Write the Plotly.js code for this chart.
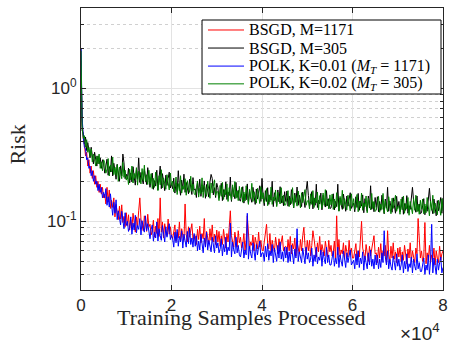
<!DOCTYPE html>
<html>
<head>
<meta charset="utf-8">
<script src="https://cdn.plot.ly/plotly-3.0.1.min.js"></script>
<style>html,body{margin:0;padding:0;background:#fff;}#chart{width:449px;height:344px;}</style>
</head>
<body>
<div id="chart"></div>
<script>
// Sample counts: two early samples, then every 250 samples up to 80000
const earlySamples = [0, 100];
const sampleStep = 250;
const samples = earlySamples.concat(Array.from({length: 320}, (_, i) => (i + 1) * sampleStep));

const seriesNames = [
  'BSGD, M=1171',
  'BSGD, M=305',
  'POLK, K=0.01 (<i>M<sub>T</sub></i> = 1171)',
  'POLK, K=0.02 (<i>M<sub>T</sub></i> = 305)'
];
const seriesColors = ['#ff0000', '#000000', '#0000ff', '#008000'];

const bsgd1171 = [
  1.6, 0.8,
  0.55, 0.42, 0.38, 0.31, 0.33, 0.26, 0.29, 0.23, 0.26, 0.21, 0.24, 0.19, 0.22, 0.18, 0.2, 0.165, 0.19, 0.16, 0.18, 0.15,
  0.16, 0.135, 0.18, 0.14, 0.172, 0.125, 0.144, 0.127, 0.15, 0.108, 0.134, 0.117, 0.103, 0.13, 0.104, 0.133, 0.098, 0.109, 0.091, 0.116,
  0.093, 0.112, 0.086, 0.103, 0.088, 0.115, 0.096, 0.083, 0.108, 0.092, 0.12, 0.15, 0.104, 0.09, 0.085, 0.11, 0.098, 0.084, 0.113, 0.091,
  0.095, 0.079, 0.085, 0.102, 0.076, 0.092, 0.081, 0.105, 0.077, 0.15, 0.083, 0.099, 0.075, 0.096, 0.084, 0.078, 0.104, 0.08, 0.091, 0.077,
  0.074, 0.087, 0.094, 0.071, 0.083, 0.075, 0.099, 0.071, 0.088, 0.078, 0.072, 0.135, 0.08, 0.07, 0.091, 0.076, 0.086, 0.096, 0.073, 0.079,
  0.078, 0.067, 0.087, 0.073, 0.092, 0.069, 0.081, 0.074, 0.105, 0.066, 0.084, 0.076, 0.068, 0.088, 0.072, 0.094, 0.07, 0.08, 0.067, 0.086,
  0.07, 0.084, 0.065, 0.078, 0.067, 0.087, 0.073, 0.063, 0.081, 0.07, 0.09, 0.12, 0.078, 0.068, 0.064, 0.083, 0.074, 0.064, 0.085, 0.069,
  0.076, 0.063, 0.068, 0.081, 0.06, 0.073, 0.11, 0.083, 0.062, 0.07, 0.066, 0.079, 0.06, 0.076, 0.067, 0.062, 0.083, 0.064, 0.072, 0.061,
  0.06, 0.071, 0.077, 0.095, 0.068, 0.062, 0.081, 0.058, 0.072, 0.064, 0.059, 0.076, 0.066, 0.057, 0.074, 0.062, 0.07, 0.078, 0.06, 0.064,
  0.065, 0.056, 0.073, 0.06, 0.077, 0.057, 0.068, 0.062, 0.075, 0.055, 0.07, 0.063, 0.057, 0.073, 0.06, 0.078, 0.09, 0.066, 0.056, 0.072,
  0.06, 0.072, 0.055, 0.066, 0.085, 0.074, 0.062, 0.054, 0.069, 0.059, 0.077, 0.056, 0.067, 0.058, 0.055, 0.071, 0.063, 0.054, 0.072, 0.059,
  0.066, 0.055, 0.059, 0.071, 0.052, 0.11, 0.056, 0.073, 0.054, 0.061, 0.057, 0.069, 0.052, 0.066, 0.059, 0.054, 0.072, 0.056, 0.063, 0.053,
  0.053, 0.063, 0.068, 0.051, 0.06, 0.054, 0.071, 0.1, 0.063, 0.056, 0.052, 0.067, 0.058, 0.05, 0.065, 0.055, 0.062, 0.069, 0.078, 0.057,
  0.058, 0.049, 0.064, 0.053, 0.068, 0.051, 0.06, 0.055, 0.066, 0.049, 0.085, 0.056, 0.05, 0.065, 0.053, 0.069, 0.052, 0.059, 0.049, 0.063,
  0.054, 0.064, 0.05, 0.059, 0.051, 0.066, 0.055, 0.048, 0.062, 0.053, 0.069, 0.05, 0.06, 0.052, 0.049, 0.063, 0.057, 0.105, 0.065, 0.053,
  0.06, 0.05, 0.054, 0.098, 0.048, 0.058, 0.051, 0.066, 0.049, 0.056, 0.052, 0.063, 0.047, 0.06, 0.053, 0.049, 0.065, 0.051, 0.057, 0.06
];

const bsgd305 = [
  2.0, 0.9,
  0.48, 0.46, 0.38, 0.43, 0.34, 0.39, 0.35, 0.30, 0.36, 0.31, 0.27, 0.33, 0.30, 0.26, 0.31, 0.27, 0.30, 0.25, 0.29, 0.27,
  0.23, 0.27, 0.293, 0.222, 0.258, 0.235, 0.31, 0.219, 0.273, 0.242, 0.207, 0.268, 0.23, 0.2, 0.261, 0.219, 0.32, 0.275, 0.209, 0.226,
  0.209, 0.251, 0.194, 0.231, 0.198, 0.257, 0.216, 0.187, 0.242, 0.207, 0.3, 0.196, 0.233, 0.202, 0.191, 0.246, 0.22, 0.189, 0.253, 0.205,
  0.18, 0.212, 0.23, 0.174, 0.202, 0.184, 0.242, 0.172, 0.214, 0.26, 0.176, 0.228, 0.196, 0.17, 0.222, 0.186, 0.21, 0.234, 0.178, 0.192,
  0.176, 0.211, 0.163, 0.194, 0.167, 0.24, 0.181, 0.157, 0.204, 0.174, 0.226, 0.165, 0.196, 0.17, 0.161, 0.207, 0.185, 0.159, 0.213, 0.172,
  0.175, 0.151, 0.196, 0.163, 0.207, 0.154, 0.182, 0.166, 0.201, 0.149, 0.189, 0.17, 0.152, 0.198, 0.225, 0.21, 0.158, 0.179, 0.151, 0.193,
  0.179, 0.149, 0.161, 0.193, 0.143, 0.173, 0.153, 0.198, 0.146, 0.166, 0.156, 0.215, 0.141, 0.181, 0.159, 0.148, 0.196, 0.151, 0.171, 0.144,
  0.142, 0.167, 0.182, 0.137, 0.16, 0.145, 0.191, 0.136, 0.169, 0.15, 0.139, 0.18, 0.155, 0.134, 0.175, 0.147, 0.166, 0.185, 0.141, 0.21,
  0.152, 0.131, 0.17, 0.141, 0.179, 0.134, 0.158, 0.144, 0.2, 0.129, 0.164, 0.147, 0.132, 0.172, 0.14, 0.182, 0.137, 0.155, 0.131, 0.167,
  0.141, 0.169, 0.13, 0.155, 0.133, 0.173, 0.145, 0.126, 0.163, 0.139, 0.181, 0.132, 0.157, 0.136, 0.129, 0.166, 0.148, 0.127, 0.17, 0.2,
  0.156, 0.13, 0.14, 0.167, 0.124, 0.15, 0.132, 0.19, 0.127, 0.144, 0.135, 0.163, 0.122, 0.157, 0.138, 0.128, 0.17, 0.131, 0.148, 0.125,
  0.126, 0.148, 0.161, 0.122, 0.141, 0.129, 0.19, 0.12, 0.15, 0.133, 0.123, 0.16, 0.137, 0.119, 0.155, 0.13, 0.147, 0.164, 0.125, 0.134,
  0.137, 0.118, 0.153, 0.127, 0.162, 0.121, 0.142, 0.13, 0.158, 0.116, 0.148, 0.133, 0.119, 0.155, 0.126, 0.185, 0.123, 0.14, 0.118, 0.151,
  0.127, 0.153, 0.118, 0.141, 0.121, 0.157, 0.131, 0.114, 0.147, 0.126, 0.18, 0.119, 0.142, 0.123, 0.117, 0.15, 0.134, 0.115, 0.154, 0.125,
  0.141, 0.118, 0.127, 0.152, 0.113, 0.136, 0.121, 0.156, 0.115, 0.131, 0.123, 0.148, 0.18, 0.143, 0.126, 0.117, 0.155, 0.119, 0.135, 0.114,
  0.116, 0.137, 0.148, 0.112, 0.13, 0.119, 0.156, 0.177, 0.138, 0.123, 0.114, 0.147, 0.126, 0.11, 0.143, 0.12, 0.135, 0.151, 0.115, 0.15
];

const polk001 = [
  2.0, 0.85,
  0.6, 0.44, 0.36, 0.35, 0.29, 0.3, 0.25, 0.26, 0.22, 0.24, 0.2, 0.22, 0.19, 0.2, 0.17, 0.19, 0.165, 0.18, 0.15, 0.165,
  0.15, 0.176, 0.132, 0.153, 0.128, 0.161, 0.131, 0.111, 0.139, 0.115, 0.145, 0.103, 0.12, 0.101, 0.094, 0.119, 0.104, 0.088, 0.116, 0.093,
  0.1, 0.084, 0.09, 0.108, 0.08, 0.097, 0.086, 0.111, 0.082, 0.093, 0.087, 0.105, 0.079, 0.101, 0.089, 0.083, 0.11, 0.085, 0.096, 0.081,
  0.074, 0.087, 0.094, 0.071, 0.083, 0.075, 0.099, 0.071, 0.088, 0.078, 0.072, 0.093, 0.08, 0.07, 0.091, 0.076, 0.086, 0.096, 0.073, 0.079,
  0.074, 0.064, 0.083, 0.069, 0.087, 0.065, 0.077, 0.07, 0.085, 0.063, 0.08, 0.072, 0.064, 0.084, 0.068, 0.089, 0.067, 0.075, 0.064, 0.081,
  0.065, 0.078, 0.06, 0.071, 0.061, 0.08, 0.067, 0.058, 0.075, 0.064, 0.083, 0.061, 0.072, 0.063, 0.059, 0.076, 0.068, 0.058, 0.078, 0.063,
  0.069, 0.058, 0.062, 0.074, 0.055, 0.067, 0.059, 0.076, 0.056, 0.064, 0.06, 0.097, 0.054, 0.07, 0.061, 0.057, 0.076, 0.058, 0.066, 0.056,
  0.054, 0.064, 0.07, 0.053, 0.061, 0.056, 0.115, 0.052, 0.065, 0.057, 0.053, 0.069, 0.059, 0.051, 0.067, 0.056, 0.064, 0.071, 0.054, 0.058,
  0.058, 0.05, 0.065, 0.054, 0.068, 0.051, 0.06, 0.055, 0.067, 0.049, 0.063, 0.056, 0.05, 0.066, 0.053, 0.07, 0.052, 0.059, 0.05, 0.064,
  0.053, 0.064, 0.049, 0.059, 0.05, 0.066, 0.055, 0.048, 0.062, 0.053, 0.088, 0.05, 0.059, 0.052, 0.049, 0.063, 0.056, 0.048, 0.064, 0.052,
  0.058, 0.049, 0.052, 0.063, 0.046, 0.056, 0.05, 0.064, 0.048, 0.054, 0.051, 0.061, 0.046, 0.059, 0.052, 0.048, 0.064, 0.049, 0.056, 0.047,
  0.047, 0.056, 0.06, 0.046, 0.053, 0.048, 0.064, 0.045, 0.056, 0.05, 0.046, 0.06, 0.051, 0.045, 0.058, 0.049, 0.055, 0.061, 0.047, 0.05,
  0.051, 0.044, 0.057, 0.047, 0.06, 0.045, 0.053, 0.048, 0.059, 0.043, 0.055, 0.049, 0.044, 0.058, 0.047, 0.061, 0.046, 0.052, 0.044, 0.056,
  0.047, 0.056, 0.044, 0.052, 0.045, 0.058, 0.049, 0.085, 0.054, 0.047, 0.06, 0.044, 0.052, 0.046, 0.043, 0.055, 0.05, 0.043, 0.057, 0.046,
  0.052, 0.043, 0.047, 0.056, 0.041, 0.05, 0.044, 0.057, 0.042, 0.048, 0.045, 0.054, 0.041, 0.052, 0.046, 0.043, 0.057, 0.044, 0.049, 0.042,
  0.042, 0.049, 0.053, 0.04, 0.047, 0.043, 0.056, 0.04, 0.05, 0.095, 0.041, 0.053, 0.046, 0.04, 0.052, 0.043, 0.049, 0.054, 0.041, 0.045
];

const polk002 = [
  1.9, 0.95,
  0.52, 0.42, 0.44, 0.36, 0.41, 0.33, 0.36, 0.31, 0.35, 0.28, 0.32, 0.29, 0.26, 0.31, 0.27, 0.32, 0.25, 0.28, 0.24, 0.29,
  0.275, 0.23, 0.247, 0.296, 0.219, 0.265, 0.235, 0.303, 0.224, 0.255, 0.221, 0.266, 0.2, 0.256, 0.226, 0.209, 0.277, 0.214, 0.242, 0.204,
  0.22, 0.189, 0.246, 0.205, 0.26, 0.194, 0.229, 0.209, 0.253, 0.187, 0.238, 0.213, 0.191, 0.249, 0.202, 0.264, 0.198, 0.224, 0.189, 0.242,
  0.19, 0.228, 0.176, 0.21, 0.18, 0.234, 0.196, 0.17, 0.22, 0.188, 0.244, 0.178, 0.212, 0.184, 0.174, 0.224, 0.2, 0.172, 0.23, 0.186,
  0.2, 0.167, 0.179, 0.215, 0.159, 0.192, 0.17, 0.22, 0.163, 0.185, 0.174, 0.209, 0.157, 0.202, 0.178, 0.165, 0.218, 0.168, 0.191, 0.161,
  0.158, 0.186, 0.201, 0.152, 0.177, 0.161, 0.212, 0.151, 0.187, 0.166, 0.154, 0.2, 0.172, 0.149, 0.194, 0.163, 0.184, 0.205, 0.156, 0.168,
  0.166, 0.143, 0.186, 0.154, 0.196, 0.146, 0.173, 0.158, 0.191, 0.141, 0.179, 0.161, 0.144, 0.188, 0.153, 0.199, 0.149, 0.169, 0.143, 0.183,
  0.15, 0.18, 0.139, 0.166, 0.142, 0.185, 0.155, 0.134, 0.174, 0.149, 0.193, 0.141, 0.167, 0.145, 0.137, 0.177, 0.158, 0.136, 0.182, 0.147,
  0.164, 0.137, 0.147, 0.176, 0.131, 0.158, 0.14, 0.181, 0.134, 0.152, 0.143, 0.172, 0.129, 0.166, 0.146, 0.135, 0.179, 0.138, 0.157, 0.132,
  0.133, 0.157, 0.17, 0.129, 0.149, 0.136, 0.179, 0.127, 0.158, 0.141, 0.13, 0.169, 0.145, 0.126, 0.164, 0.138, 0.155, 0.173, 0.132, 0.142,
  0.144, 0.124, 0.161, 0.134, 0.17, 0.127, 0.15, 0.137, 0.166, 0.122, 0.156, 0.14, 0.125, 0.163, 0.132, 0.173, 0.13, 0.147, 0.124, 0.158,
  0.133, 0.16, 0.123, 0.147, 0.126, 0.164, 0.137, 0.119, 0.154, 0.132, 0.171, 0.125, 0.148, 0.129, 0.122, 0.157, 0.14, 0.12, 0.161, 0.13,
  0.148, 0.123, 0.133, 0.159, 0.118, 0.142, 0.126, 0.163, 0.121, 0.137, 0.129, 0.155, 0.116, 0.149, 0.132, 0.122, 0.162, 0.125, 0.141, 0.119,
  0.121, 0.142, 0.154, 0.117, 0.135, 0.123, 0.162, 0.115, 0.143, 0.127, 0.118, 0.153, 0.131, 0.114, 0.149, 0.125, 0.141, 0.157, 0.119, 0.129,
  0.131, 0.113, 0.147, 0.122, 0.155, 0.115, 0.136, 0.124, 0.151, 0.111, 0.141, 0.127, 0.114, 0.148, 0.121, 0.157, 0.118, 0.134, 0.113, 0.144,
  0.123, 0.147, 0.114, 0.135, 0.116, 0.151, 0.126, 0.11, 0.142, 0.121, 0.157, 0.115, 0.137, 0.119, 0.112, 0.144, 0.129, 0.111, 0.148, 0.12
];

const allSeries = [bsgd1171, bsgd305, polk001, polk002];

const xTickVals = [0, 20000, 40000, 60000, 80000];
const xTickText = ['0', '2', '4', '6', '8'];
const yTickVals = [0.1, 1];
const yTickText = ['10<sup>-1</sup>', '10<sup>0</sup>'];
const yMinorVals = [0.03, 0.04, 0.05, 0.06, 0.07, 0.08, 0.09, 0.2, 0.3, 0.4, 0.5, 0.6, 0.7, 0.8, 0.9, 2, 3, 4];

const traces = allSeries.map((ys, i) => ({
  x: samples,
  y: ys,
  type: 'scatter',
  mode: 'lines',
  name: seriesNames[i],
  showlegend: false,
  line: {color: seriesColors[i], width: 1}
}));

const axisColor = '#262626';
const tickFont = {family: 'Liberation Sans, Arial, sans-serif', size: 17, color: axisColor};
const serif = 'Liberation Serif, Times New Roman, serif';

// Legend drawn as a boxed key (paper coordinates)
const legendBox = {x0: 0.3343, x1: 0.9945, y0: 0.695, y1: 0.9574};
const legendRowsY = [0.922, 0.858, 0.794, 0.731];
const legendLineX = [0.3508, 0.4503];
const legendTextX = 0.4586;

const shapes = [{
  type: 'rect', xref: 'paper', yref: 'paper',
  x0: legendBox.x0, x1: legendBox.x1, y0: legendBox.y0, y1: legendBox.y1,
  fillcolor: '#ffffff', line: {color: '#000000', width: 1}, layer: 'above'
}].concat(legendRowsY.map((yy, i) => ({
  type: 'line', xref: 'paper', yref: 'paper',
  x0: legendLineX[0], x1: legendLineX[1], y0: yy, y1: yy,
  line: {color: seriesColors[i], width: 1}, layer: 'above'
})));

const legendAnnotations = legendRowsY.map((yy, i) => ({
  text: seriesNames[i], xref: 'paper', yref: 'paper', x: legendTextX, y: yy,
  xanchor: 'left', yanchor: 'middle', showarrow: false,
  font: {family: serif, size: 16, color: '#000000'}
}));

const layout = {
  width: 449, height: 344,
  margin: {l: 81, r: 6, t: 8, b: 54},
  paper_bgcolor: '#ffffff',
  plot_bgcolor: '#ffffff',
  showlegend: false,
  xaxis: {
    range: [0, 80000],
    tickmode: 'array', tickvals: xTickVals, ticktext: xTickText,
    ticks: 'inside', ticklen: 5, tickcolor: axisColor,
    showline: true, linecolor: axisColor, linewidth: 1, mirror: 'ticks',
    showgrid: true, gridcolor: '#e3e3e3', gridwidth: 1,
    zeroline: false,
    tickfont: tickFont
  },
  yaxis: {
    type: 'log',
    range: [Math.log10(0.0305), Math.log10(4.0)],
    tickmode: 'array', tickvals: yTickVals, ticktext: yTickText,
    ticks: 'inside', ticklen: 5, tickcolor: axisColor,
    showline: true, linecolor: axisColor, linewidth: 1, mirror: 'allticks',
    showgrid: true, gridcolor: '#e3e3e3', gridwidth: 1,
    zeroline: false,
    tickfont: tickFont,
    minor: {
      tickmode: 'array', tickvals: yMinorVals,
      ticks: 'inside', ticklen: 3, tickcolor: axisColor,
      showgrid: true, gridcolor: '#d0d0d0', griddash: 'dot', gridwidth: 1
    }
  },
  shapes: shapes,
  annotations: [
    {text: 'Training Samples Processed', xref: 'paper', yref: 'paper', x: 0.442, y: -0.096,
     xanchor: 'center', yanchor: 'middle', showarrow: false,
     font: {family: serif, size: 22, color: axisColor}},
    {text: '×10<sup>4</sup>', xref: 'paper', yref: 'paper', x: 0.997, y: -0.150,
     xanchor: 'right', yanchor: 'middle', showarrow: false,
     font: {family: 'Liberation Sans, Arial, sans-serif', size: 19, color: axisColor}},
    {text: 'Risk', xref: 'paper', yref: 'paper', x: -0.178, y: 0.514,
     xanchor: 'center', yanchor: 'middle', textangle: -90, showarrow: false,
     font: {family: serif, size: 22, color: axisColor}}
  ].concat(legendAnnotations)
};

Plotly.newPlot('chart', traces, layout, {displayModeBar: false, staticPlot: true});
</script>
</body>
</html>
